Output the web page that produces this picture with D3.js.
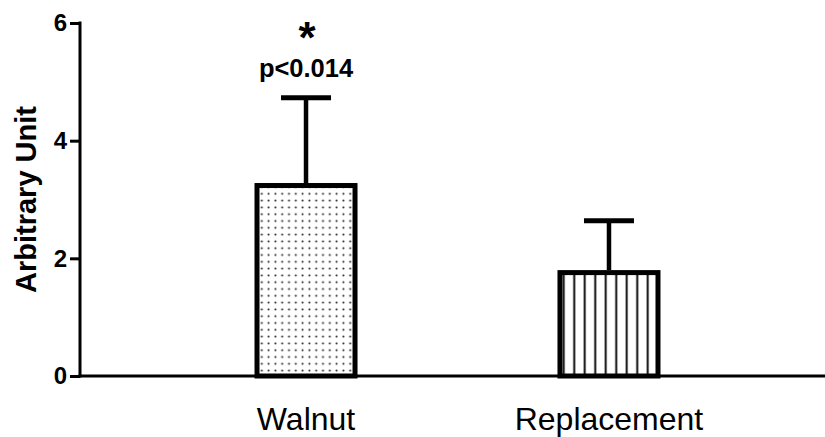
<!DOCTYPE html>
<html lang="en">
<head>
<meta charset="utf-8">
<title>Arbitrary Unit bar chart</title>
<script src="https://cdn.jsdelivr.net/npm/d3@7"></script>
<style>
	body { margin: 0; background: #fff; overflow: hidden; }
	text { font-family: "Liberation Sans", Arial, sans-serif; fill: #000; }
</style>
</head>
<body>
<svg id="chart" width="825" height="437"></svg>
<script>
// data
var categories = ["Walnut", "Replacement"];
var means = [3.28, 1.80];
var errors = [1.45, 0.84];   // upper error bar
var yTicks = [0, 2, 4, 6];
var annotP = "p<0.014";
var annotStar = "*";

var svg = d3.select("#chart");
var width = 825, height = 437;
var axisX = 80, plotTop = 23, plotBottom = 376;
var barStroke = 5;

var y = d3.scaleLinear().domain([0, 6]).range([plotBottom, plotTop]);
var x = d3.scaleBand()
	.domain(categories)
	.range([90, 825])
	.paddingInner(0.66)
	.paddingOuter(0.543);

// fill patterns
var defs = svg.append("defs");
var dots = defs.append("pattern")
	.attr("id", "dots")
	.attr("patternUnits", "userSpaceOnUse")
	.attr("width", 6.8).attr("height", 6.8);
dots.append("rect").attr("width", 6.8).attr("height", 6.8).attr("fill", "#fff");
dots.append("circle").attr("cx", 3.4).attr("cy", 3.4).attr("r", 1.05).attr("fill", "#222");

var stripes = defs.append("pattern")
	.attr("id", "stripes")
	.attr("patternUnits", "userSpaceOnUse")
	.attr("x", x("Replacement") + 1)
	.attr("width", 10.5).attr("height", 10);
stripes.append("rect").attr("width", 10.5).attr("height", 10).attr("fill", "#fff");
stripes.append("line")
	.attr("x1", 5.25).attr("x2", 5.25).attr("y1", 0).attr("y2", 10)
	.attr("stroke", "#000").attr("stroke-width", 1.9);

var fills = ["url(#dots)", "url(#stripes)"];

// error bars (drawn first so the bar covers the stem)
var g = svg.append("g");
categories.forEach(function(c, i) {
	var cx = x(c) + x.bandwidth() / 2;
	g.append("line")
		.attr("x1", cx).attr("x2", cx)
		.attr("y1", y(means[i])).attr("y2", y(means[i] + errors[i]))
		.attr("stroke", "#000").attr("stroke-width", 4.5);
	g.append("line")
		.attr("x1", cx - 25).attr("x2", cx + 25)
		.attr("y1", y(means[i] + errors[i])).attr("y2", y(means[i] + errors[i]))
		.attr("stroke", "#000").attr("stroke-width", 5);
});

// bars
g.selectAll("rect.bar")
	.data(categories)
	.enter().append("rect")
	.attr("class", "bar")
	.attr("x", function(d) { return x(d) + barStroke / 2; })
	.attr("width", x.bandwidth() - barStroke)
	.attr("y", function(d, i) { return y(means[i]) + barStroke / 2; })
	.attr("height", function(d, i) { return plotBottom - y(means[i]) - barStroke / 2; })
	.attr("fill", function(d, i) { return fills[i]; })
	.attr("stroke", "#000")
	.attr("stroke-width", barStroke);

// y axis
var yAxis = svg.append("g")
	.attr("transform", "translate(" + axisX + ",0)")
	.call(d3.axisLeft(y).tickValues(yTicks).tickFormat(d3.format("d")).tickSize(10).tickPadding(3));
yAxis.select(".domain").attr("stroke-width", 3).attr("d", "M0," + (plotTop - 1.5) + "V" + (plotBottom + 1.5));
yAxis.selectAll(".tick line").attr("stroke-width", 3);
yAxis.selectAll(".tick text")
	.style("font-size", "24px").style("font-weight", "bold")
	.style("font-family", "'Liberation Sans', Arial, sans-serif");

// x axis
var xAxis = svg.append("g")
	.attr("transform", "translate(0," + plotBottom + ")")
	.call(d3.axisBottom(x).tickSize(0).tickPadding(31));
xAxis.select(".domain").attr("stroke-width", 3).attr("d", "M" + (axisX - 1.5) + ",0H" + width);
xAxis.selectAll(".tick text")
	.style("font-size", "32px")
	.style("font-family", "'Liberation Sans', Arial, sans-serif");

// y title
svg.append("text")
	.attr("transform", "translate(36," + ((plotTop + plotBottom) / 2) + ") rotate(-90)")
	.attr("text-anchor", "middle")
	.style("font-size", "29px").style("font-weight", "bold")
	.text("Arbitrary Unit");

// significance annotation
var wx = x("Walnut") + x.bandwidth() / 2;
svg.append("text")
	.attr("x", wx).attr("y", 77)
	.attr("text-anchor", "middle")
	.style("font-size", "25.5px").style("font-weight", "bold")
	.text(annotP);
svg.append("text")
	.attr("x", wx + 1).attr("y", 53)
	.attr("text-anchor", "middle")
	.style("font-size", "44px").style("font-weight", "bold")
	.text(annotStar);
</script>
</body>
</html>
